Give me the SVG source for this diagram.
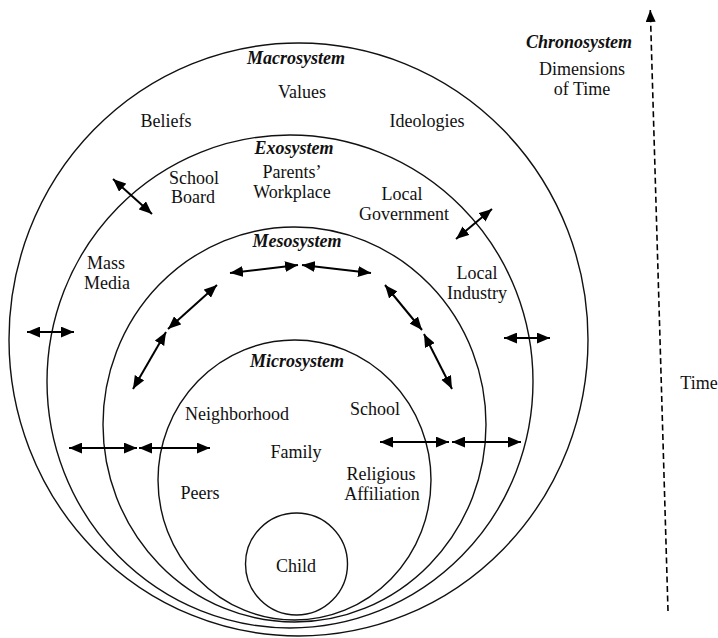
<svg xmlns="http://www.w3.org/2000/svg" width="718" height="638" viewBox="0 0 718 638" font-family="'Liberation Serif', 'Times New Roman', serif">
<style>
text{font-size:18px;fill:#111;text-anchor:middle}
.t{font-weight:bold;font-style:italic}
.ring{fill:none;stroke:#111;stroke-width:1.4}
.arr{stroke:#000;stroke-width:2;fill:none;marker-start:url(#ah);marker-end:url(#ah)}
</style>
<defs>
<marker id="ah" viewBox="0 0 12 10" refX="12" refY="5" markerWidth="13" markerHeight="11" markerUnits="userSpaceOnUse" orient="auto-start-reverse"><path d="M0,0 L12,5 L0,10 z" fill="#000"/></marker>
<marker id="th" viewBox="0 0 12 10" refX="12" refY="5" markerWidth="12" markerHeight="10" markerUnits="userSpaceOnUse" orient="auto"><path d="M0,0 L12,5 L0,10 z" fill="#000"/></marker>
</defs>
<g id="macrosystem">
<ellipse class="ring" cx="298.5" cy="339.5" rx="289.5" ry="296.5"/>
<text class="t" x="296" y="64">Macrosystem</text>
<text x="302" y="98">Values</text>
<text x="166" y="127">Beliefs</text>
<text x="427" y="127">Ideologies</text>
</g>
<g id="exosystem">
<ellipse class="ring" cx="290" cy="381.5" rx="243" ry="246.5"/>
<text class="t" x="294" y="154">Exosystem</text>
<text x="194" y="184">School</text>
<text x="193" y="203">Board</text>
<text x="292" y="178">Parents’</text>
<text x="292" y="198">Workplace</text>
<text x="402" y="200">Local</text>
<text x="404" y="220">Government</text>
<text x="106" y="269">Mass</text>
<text x="107" y="289">Media</text>
<text x="477" y="279">Local</text>
<text x="477" y="299">Industry</text>
</g>
<g id="mesosystem">
<ellipse class="ring" cx="294.5" cy="424.5" rx="191.5" ry="197.5"/>
<text class="t" x="297" y="247">Mesosystem</text>
</g>
<g id="microsystem">
<ellipse class="ring" cx="294.5" cy="480" rx="136.5" ry="140"/>
<text class="t" x="297" y="367">Microsystem</text>
<text x="237" y="420">Neighborhood</text>
<text x="375" y="415">School</text>
<text x="296" y="458">Family</text>
<text x="200" y="499">Peers</text>
<text x="381" y="480">Religious</text>
<text x="382" y="500">Affiliation</text>
</g>
<g id="child">
<circle class="ring" cx="296.5" cy="564" r="51"/>
<text x="296" y="572">Child</text>
</g>
<g id="chronosystem">
<text class="t" x="579" y="48">Chronosystem</text>
<text x="582" y="75">Dimensions</text>
<text x="582" y="95">of Time</text>
<text x="699" y="389">Time</text>
</g>
<g id="connectors">
<line class="arr" x1="113" y1="179" x2="152" y2="214"/>
<line class="arr" x1="456" y1="239" x2="492" y2="209"/>
<line class="arr" x1="27" y1="332" x2="74" y2="332"/>
<line class="arr" x1="504" y1="338" x2="550" y2="338"/>
<line class="arr" x1="230" y1="273" x2="298" y2="265"/>
<line class="arr" x1="302" y1="265" x2="371" y2="273"/>
<line class="arr" x1="217" y1="285" x2="168" y2="329"/>
<line class="arr" x1="166" y1="332" x2="133" y2="389"/>
<line class="arr" x1="385" y1="285" x2="422" y2="330"/>
<line class="arr" x1="424" y1="334" x2="452" y2="389"/>
<line class="arr" x1="69" y1="448" x2="137" y2="448"/>
<line class="arr" x1="139" y1="448" x2="210" y2="448"/>
<line class="arr" x1="380" y1="442" x2="449" y2="442"/>
<line class="arr" x1="452" y1="442" x2="521" y2="442"/>
<line x1="668" y1="611" x2="650.3" y2="10" stroke="#000" stroke-width="1.6" stroke-dasharray="6,3.5" marker-end="url(#th)"/>
</g>
</svg>
